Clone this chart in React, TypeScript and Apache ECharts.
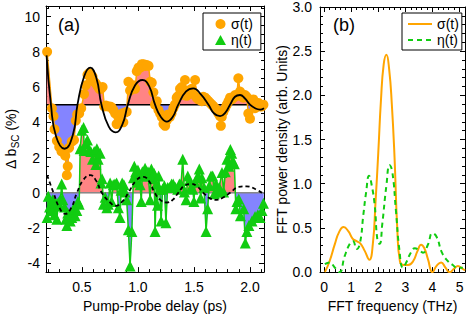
import React, { useEffect, useRef } from "react";
import * as echarts from "echarts";

// ---------- data ----------
const sigmaData: number[][] = [
  [0.19, 8.0], [0.233, 4.8], [0.247, 4.35], [0.256, 3.6], [0.277, 2.95], [0.298, 2.6], [0.318, 2.35],
  [0.336, 2.3], [0.352, 2.1], [0.366, 1.0], [0.374, 1.5], [0.386, 2.55], [0.41, 2.9], [0.43, 3.0],
  [0.446, 4.1], [0.458, 4.45], [0.476, 4.5], [0.494, 4.8], [0.52, 5.6], [0.535, 6.1], [0.55, 6.7],
  [0.565, 6.8], [0.58, 6.55], [0.595, 6.6], [0.61, 6.3], [0.625, 6.2], [0.64, 6.05], [0.655, 5.9],
  [0.67, 5.9], [0.685, 6.0], [0.7, 4.9], [0.715, 4.95], [0.73, 4.9], [0.75, 4.9], [0.765, 4.85],
  [0.78, 4.7], [0.797, 4.5], [0.81, 3.9], [0.825, 4.3], [0.84, 4.1], [0.857, 4.5], [0.87, 4.0],
  [0.885, 4.55], [0.9, 4.6], [0.915, 6.3], [0.93, 5.8], [0.946, 5.9], [0.96, 6.1], [0.975, 5.9],
  [0.99, 6.9], [1.005, 7.1], [1.02, 7.1], [1.035, 7.3], [1.05, 7.3], [1.065, 7.2], [1.08, 7.25],
  [1.095, 7.2], [1.11, 6.3], [1.124, 6.25], [1.138, 5.7], [1.153, 5.0], [1.168, 5.2], [1.183, 4.7],
  [1.198, 4.5], [1.213, 4.3], [1.228, 3.9], [1.243, 3.8], [1.257, 4.1], [1.27, 4.45], [1.285, 4.3],
  [1.3, 4.5], [1.316, 4.8], [1.33, 5.0], [1.346, 5.4], [1.361, 5.5], [1.376, 5.9], [1.391, 6.0],
  [1.405, 5.55], [1.42, 6.4], [1.435, 5.5], [1.45, 5.8], [1.465, 5.65], [1.48, 5.9], [1.495, 5.6],
  [1.51, 6.4], [1.525, 5.4], [1.54, 5.3], [1.555, 5.4], [1.57, 5.2], [1.584, 5.45], [1.6, 5.4],
  [1.614, 5.3], [1.629, 5.2], [1.644, 5.1], [1.66, 5.0], [1.675, 4.9], [1.69, 4.8], [1.703, 4.7],
  [1.718, 4.5], [1.733, 4.35], [1.74, 3.8], [1.748, 4.3], [1.763, 4.6], [1.778, 4.8], [1.793, 5.0],
  [1.808, 5.2], [1.822, 5.4], [1.837, 5.3], [1.852, 5.4], [1.867, 5.55], [1.882, 5.5], [1.896, 6.5],
  [1.911, 5.75], [1.926, 5.6], [1.941, 5.4], [1.956, 5.55], [1.97, 5.45], [1.985, 4.5], [2.0, 4.2],
  [2.015, 5.2], [2.03, 5.3], [2.045, 4.8], [2.06, 5.0], [2.075, 5.1], [2.09, 4.9], [2.105, 4.9],
  [2.12, 5.0],
];

const etaData: number[][] = [
  [0.19, -1.4], [0.2, -0.2], [0.212, -0.8], [0.226, -1.0], [0.24, -0.4], [0.255, -1.25], [0.268, -0.6],
  [0.277, -1.5], [0.29, -0.55], [0.3, -0.75], [0.31, -0.35], [0.32, 0.5], [0.33, -0.4], [0.345, -0.8],
  [0.356, -1.5], [0.366, -1.85], [0.374, -1.15], [0.386, -1.4], [0.396, -1.6], [0.41, -1.4],
  [0.425, -0.9], [0.44, -1.3], [0.455, -1.0], [0.465, -0.5], [0.476, -0.65], [0.485, 2.5], [0.5, 3.55],
  [0.515, 3.7], [0.52, 2.4], [0.535, 2.8], [0.55, 3.0], [0.565, 2.45], [0.58, 2.35], [0.595, 1.9],
  [0.61, 2.35], [0.625, 1.6], [0.634, 2.5], [0.645, 1.9], [0.663, 2.25], [0.67, 0.55], [0.68, 0.8],
  [0.693, -0.65], [0.708, -0.25], [0.723, -0.85], [0.735, -0.65], [0.752, 0.55], [0.765, -0.5],
  [0.78, 0.45], [0.795, 0.5], [0.81, 0.55], [0.826, -0.85], [0.84, -1.4], [0.85, 0.15], [0.86, 0.55],
  [0.875, 0.45], [0.886, 0.05], [0.9, -0.4], [0.915, -2.1], [0.93, -4.15], [0.946, -2.2], [0.96, 0.85],
  [0.968, 1.5], [0.98, 1.2], [0.99, 0.6], [1.0, 1.3], [1.02, 0.45], [1.03, -0.5], [1.04, 1.2],
  [1.05, 0.95], [1.064, 1.4], [1.078, 0.95], [1.09, 1.2], [1.109, -0.4], [1.12, 1.35], [1.135, 0.8],
  [1.145, 1.1], [1.153, -2.2], [1.165, 0.5], [1.175, -0.7], [1.185, 0.95], [1.195, 0.2], [1.207, -1.6],
  [1.22, 0.2], [1.236, 0.4], [1.25, -1.7], [1.265, 0.3], [1.28, 0.3], [1.3, 0.5], [1.315, 0.5],
  [1.335, 0.3], [1.355, 0.2], [1.37, 0.5], [1.385, 0.5], [1.4, 1.9], [1.415, 0.05], [1.43, -0.4],
  [1.445, 0.95], [1.459, 0.7], [1.475, 0.3], [1.49, 0.2], [1.5, -0.5], [1.51, 0.6], [1.53, 0.9],
  [1.548, 1.35], [1.56, -0.3], [1.57, 0.85], [1.59, 0.3], [1.608, -2.2], [1.622, -0.9], [1.637, 0.4],
  [1.652, 0.95], [1.667, 0.95], [1.682, -0.05], [1.697, 0.5], [1.71, 0.05], [1.725, 0.3], [1.75, 1.15],
  [1.765, 0.05], [1.78, 1.2], [1.795, 1.9], [1.81, 1.5], [1.825, 2.45], [1.837, 2.25], [1.845, 1.8],
  [1.86, 1.65], [1.874, -0.9], [1.884, -0.5], [1.9, -0.35], [1.915, -1.3], [1.944, -0.9], [1.958, -2.85],
  [1.972, -2.2], [1.99, -1.85], [2.018, -1.6], [2.045, -1.35], [2.07, -1.25], [2.09, -1.4], [2.107, -1.0],
  [2.12, -0.6],
];

const sigmaFit: number[][] = [
  [0.185, 7.8], [0.224, 5.0], [0.27, 3.2], [0.345, 2.5], [0.42, 3.3], [0.461, 5.0], [0.52, 6.6],
  [0.575, 7.1], [0.63, 6.5], [0.675, 5.0], [0.74, 3.75], [0.8, 3.43], [0.86, 3.85], [0.91, 5.0],
  [0.975, 6.1], [1.04, 6.4], [1.1, 6.05], [1.153, 5.0], [1.205, 4.3], [1.258, 4.04], [1.31, 4.3],
  [1.36, 5.0], [1.43, 5.75], [1.495, 5.93], [1.56, 5.6], [1.63, 5.0], [1.68, 4.5], [1.733, 4.35],
  [1.78, 4.55], [1.822, 5.0], [1.866, 5.45], [1.911, 5.55], [1.955, 5.35], [2.0, 5.0], [2.05, 4.78],
  [2.09, 4.72], [2.125, 4.8],
];

const etaFit: number[][] = [
  [0.19, 1.0], [0.247, 0], [0.3, -0.85], [0.351, -1.2], [0.405, -0.85], [0.456, 0], [0.515, 0.75],
  [0.574, 1.0], [0.626, 0.7], [0.678, 0], [0.752, -0.55], [0.8, -0.74], [0.86, -0.5], [0.915, 0],
  [0.985, 0.7], [1.05, 0.9], [1.1, 0.65], [1.15, 0], [1.2, -0.4], [1.258, -0.55], [1.31, -0.4],
  [1.36, 0], [1.42, 0.42], [1.48, 0.5], [1.53, 0.35], [1.584, 0], [1.64, -0.3], [1.703, -0.4],
  [1.76, -0.27], [1.822, 0], [1.9, 0.33], [1.97, 0.37], [2.05, 0.2], [2.125, -0.07],
];

const sigmaBase = 5;
const etaBase = 0;

const fftSigma: number[][] = [
  [0.03, 0.0], [0.2, 0.12], [0.4, 0.32], [0.55, 0.45], [0.72, 0.51], [0.9, 0.46], [1.05, 0.38],
  [1.2, 0.35], [1.35, 0.32], [1.5, 0.24], [1.67, 0.14], [1.8, 0.32], [1.9, 0.8], [2.0, 1.35],
  [2.1, 1.95], [2.2, 2.35], [2.3, 2.46], [2.4, 2.3], [2.5, 1.9], [2.6, 1.3], [2.7, 0.5], [2.8, 0.12],
  [2.95, 0.08], [3.1, 0.08], [3.28, 0.12], [3.45, 0.24], [3.58, 0.31], [3.7, 0.27], [3.83, 0.15],
  [4.0, 0.0], [4.15, 0.07], [4.32, 0.11], [4.48, 0.05], [4.63, 0.0], [4.8, 0.04], [4.94, 0.07],
  [5.1, 0.04], [5.2, 0.02],
];

const fftEta: number[][] = [
  [0.03, 0.09], [0.2, 0.11], [0.4, 0.05], [0.57, 0.0], [0.76, 0.18], [0.95, 0.32], [1.07, 0.35],
  [1.2, 0.26], [1.32, 0.32], [1.45, 0.65], [1.55, 0.9], [1.66, 1.09], [1.76, 0.98], [1.87, 0.75],
  [1.97, 0.36], [2.05, 0.32], [2.15, 0.55], [2.3, 0.98], [2.42, 1.21], [2.52, 1.13], [2.65, 0.7],
  [2.78, 0.25], [2.91, 0.05], [3.05, 0.12], [3.2, 0.22], [3.35, 0.27], [3.5, 0.25], [3.65, 0.22],
  [3.83, 0.31], [4.0, 0.44], [4.15, 0.4], [4.35, 0.22], [4.55, 0.13], [4.75, 0.08], [4.9, 0.05],
  [5.12, 0.05],
];

// tick labels
const xTicksA = [0.5, 1.0, 1.5, 2.0];
const yTicksA = [-4, -2, 0, 2, 4, 6, 8, 10];
const xTicksB = [0, 1, 2, 3, 4, 5];
const yTicksB = [0, 0.5, 1.0, 1.5, 2.0, 2.5, 3.0];

const FONT = "'Liberation Sans', Arial, Helvetica, sans-serif";
const ORANGE = "#FFA500";
const GREEN = "#11CC11";
const RED_FILL = "#FF8484";
const BLUE_FILL = "#8484FF";

function range(a: number, b: number, step: number, skip: number[]): number[] {
  const out: number[] = [];
  const n = Math.round((b - a) / step);
  for (let i = 0; i <= n; i++) {
    const v = Math.round((a + i * step) * 1000) / 1000;
    if (!skip.some((s) => Math.abs(s - v) < 1e-6)) out.push(v);
  }
  return out;
}

function axisGroup(
  kind: "x" | "y",
  gridIndex: number,
  min: number,
  max: number,
  majors: number[],
  minors: number[],
  main: any
) {
  const mainPos = kind === "x" ? "bottom" : "left";
  const oppPos = kind === "x" ? "top" : "right";
  const common = {
    type: "value",
    gridIndex,
    min,
    max,
    splitLine: { show: false },
    minorTick: { show: false },
  };
  const line = { show: true, onZero: false, lineStyle: { color: "#000", width: 1 } };
  return [
    {
      ...common,
      position: mainPos,
      axisLine: line,
      axisTick: { show: true, inside: true, length: 5, customValues: majors, lineStyle: { color: "#000", width: 1 } },
      axisLabel: {
        show: true,
        customValues: majors,
        color: "#000",
        fontSize: 14,
        fontFamily: FONT,
        margin: main.labelMargin,
        formatter: main.formatter,
      },
      name: main.name,
      nameLocation: "middle",
      nameGap: main.nameGap,
      nameTextStyle: main.nameTextStyle,
    },
    {
      ...common,
      position: mainPos,
      axisLine: { show: false, onZero: false },
      axisTick: { show: true, inside: true, length: 3, customValues: minors, lineStyle: { color: "#000", width: 1 } },
      axisLabel: { show: false },
    },
    {
      ...common,
      position: oppPos,
      axisLine: line,
      axisTick: { show: true, inside: true, length: 5, customValues: majors, lineStyle: { color: "#000", width: 1 } },
      axisLabel: { show: false },
    },
    {
      ...common,
      position: oppPos,
      axisLine: { show: false, onZero: false },
      axisTick: { show: true, inside: true, length: 3, customValues: minors, lineStyle: { color: "#000", width: 1 } },
      axisLabel: { show: false },
    },
  ];
}

function fillRenderer(data: number[][], base: number) {
  return (params: any, api: any) => {
    if (params.dataIndex !== 0) return null;
    const pts = data.map((d) => api.coord([d[0], d[1]]));
    const by = api.coord([data[0][0], base])[1];
    const children: any[] = [];
    let sign = data[0][1] >= base;
    let cur: number[][] = [[pts[0][0], by], pts[0]];
    for (let i = 1; i < data.length; i++) {
      const s = data[i][1] >= base;
      if (s === sign) {
        cur.push(pts[i]);
      } else {
        const f = (data[i - 1][1] - base) / (data[i - 1][1] - data[i][1]);
        const cx = pts[i - 1][0] + f * (pts[i][0] - pts[i - 1][0]);
        cur.push([cx, by]);
        children.push({
          type: "polygon",
          shape: { points: cur },
          style: { fill: sign ? RED_FILL : BLUE_FILL, stroke: sign ? RED_FILL : BLUE_FILL, lineWidth: 0.5 },
        });
        cur = [[cx, by], pts[i]];
        sign = s;
      }
    }
    cur.push([pts[pts.length - 1][0], by]);
    children.push({
      type: "polygon",
      shape: { points: cur },
      style: { fill: sign ? RED_FILL : BLUE_FILL, stroke: sign ? RED_FILL : BLUE_FILL, lineWidth: 0.5 },
    });
    return { type: "group", children };
  };
}

export default function App() {
  const ref = useRef<HTMLDivElement>(null);
  useEffect(() => {
    if (!ref.current) return;
    const chart = echarts.init(ref.current, null, { renderer: "svg" });
    const xMinA = 0.18, xMaxA = 2.125, yMinA = -4.5, yMaxA = 10.6;
    const xMinB = -0.15, xMaxB = 5.2, yMinB = 0, yMaxB = 3;

    const xAxes = [
      ...axisGroup("x", 0, xMinA, xMaxA, xTicksA, range(0.2, 2.1, 0.1, xTicksA), {
        formatter: (v: number) => v.toFixed(1),
        labelMargin: 8,
        name: "Pump-Probe delay (ps)",
        nameGap: 24,
        nameTextStyle: { fontSize: 14, color: "#000", fontFamily: FONT },
      }),
      ...axisGroup("x", 1, xMinB, xMaxB, xTicksB, range(0, 5.2, 0.2, xTicksB), {
        formatter: (v: number) => String(v),
        labelMargin: 8,
        name: "FFT frequency (THz)",
        nameGap: 24,
        nameTextStyle: { fontSize: 14, color: "#000", fontFamily: FONT },
      }),
    ];
    const yAxes = [
      ...axisGroup("y", 0, yMinA, yMaxA, yTicksA, range(-4.5, 10.5, 0.5, yTicksA), {
        formatter: (v: number) => String(v),
        labelMargin: 6,
        name: "{n|Δ b}{s|SC}{n| (%)}",
        nameGap: 22,
        nameTextStyle: {
          color: "#000",
          fontFamily: FONT,
          rich: {
            n: { fontSize: 14, lineHeight: 20, fontFamily: FONT, color: "#000" },
            s: { fontSize: 10, lineHeight: 12, verticalAlign: "bottom", fontFamily: FONT, color: "#000" },
          },
        },
      }),
      ...axisGroup("y", 1, yMinB, yMaxB, yTicksB, range(0, 3, 0.1, yTicksB), {
        formatter: (v: number) => v.toFixed(1),
        labelMargin: 8,
        name: "FFT power density (arb. Units)",
        nameGap: 30,
        nameTextStyle: { fontSize: 14, color: "#000", fontFamily: FONT },
      }),
    ];

    const option: any = {
      animation: false,
      backgroundColor: "#fff",
      textStyle: { fontFamily: FONT },
      grid: [
        { left: 46, top: 6, width: 218, height: 272 },
        { left: 320, top: 6, width: 145, height: 272 },
      ],
      xAxis: xAxes,
      yAxis: yAxes,
      legend: [
        {
          left: 203,
          top: 13,
          orient: "vertical",
          padding: [4, 8, 3, 12],
          itemGap: 2,
          itemWidth: 11,
          itemHeight: 10,
          borderColor: "#000",
          borderWidth: 1,
          borderRadius: 0,
          backgroundColor: "#fff",
          selectedMode: false,
          textStyle: { fontSize: 14, color: "#000", fontFamily: FONT, lineHeight: 14 },
          data: [
            { name: "σ(t)", icon: "circle" },
            { name: "η(t)", icon: "triangle" },
          ],
        },
        {
          left: 402,
          top: 13,
          orient: "vertical",
          padding: [4, 3, 3, 5],
          itemGap: 2,
          itemWidth: 24,
          itemHeight: 10,
          borderColor: "#000",
          borderWidth: 1,
          borderRadius: 0,
          backgroundColor: "#fff",
          selectedMode: false,
          itemStyle: { opacity: 0, borderWidth: 0 },
          textStyle: { fontSize: 14, color: "#000", fontFamily: FONT, lineHeight: 14 },
          formatter: (n: string) => (n === "fftSigma" ? "σ(t)" : "η(t)"),
          data: [{ name: "fftSigma" }, { name: "fftEta" }],
        },
      ],
      graphic: [
        { type: "text", left: 58, top: 16, style: { text: "(a)", fontSize: 18, fontFamily: FONT, fill: "#000" } },
        { type: "text", left: 333, top: 16, style: { text: "(b)", fontSize: 18, fontFamily: FONT, fill: "#000" } },
      ],
      series: [
        {
          type: "custom",
          name: "sigmaFill",
          xAxisIndex: 0,
          yAxisIndex: 0,
          clip: true,
          renderItem: fillRenderer(sigmaData, sigmaBase),
          data: [[sigmaData[0][0], sigmaBase]],
          encode: { x: 0, y: 1 },
          z: 1,
        },
        {
          type: "custom",
          name: "etaFill",
          xAxisIndex: 0,
          yAxisIndex: 0,
          clip: true,
          renderItem: fillRenderer(etaData, etaBase),
          data: [[etaData[0][0], etaBase]],
          encode: { x: 0, y: 1 },
          z: 1,
        },
        {
          type: "line",
          name: "sigmaBase",
          xAxisIndex: 0,
          yAxisIndex: 0,
          data: [[xMinA, sigmaBase], [xMaxA, sigmaBase]],
          symbol: "none",
          lineStyle: { color: "#000", width: 1.5 },
          z: 2,
        },
        {
          type: "line",
          name: "etaBase",
          xAxisIndex: 0,
          yAxisIndex: 0,
          data: [[xMinA, etaBase], [xMaxA, etaBase]],
          symbol: "none",
          lineStyle: { color: "#888", width: 1.5 },
          z: 2,
        },
        {
          type: "line",
          name: "σ(t)",
          xAxisIndex: 0,
          yAxisIndex: 0,
          data: sigmaData,
          symbol: "circle",
          symbolSize: 10,
          showAllSymbol: true,
          itemStyle: { color: ORANGE },
          lineStyle: { color: ORANGE, width: 1.5 },
          z: 3,
        },
        {
          type: "line",
          name: "η(t)",
          xAxisIndex: 0,
          yAxisIndex: 0,
          data: etaData,
          symbol: "triangle",
          symbolSize: 11,
          showAllSymbol: true,
          itemStyle: { color: GREEN },
          lineStyle: { color: GREEN, width: 1.5 },
          z: 3,
        },
        {
          type: "line",
          name: "sigmaFit",
          xAxisIndex: 0,
          yAxisIndex: 0,
          data: sigmaFit,
          smooth: 0.5,
          symbol: "none",
          lineStyle: { color: "#000", width: 1.8 },
          z: 4,
        },
        {
          type: "line",
          name: "etaFit",
          xAxisIndex: 0,
          yAxisIndex: 0,
          data: etaFit,
          smooth: 0.5,
          symbol: "none",
          lineStyle: { color: "#000", width: 1.8, type: [4, 3] },
          z: 4,
        },
        {
          type: "line",
          name: "fftSigma",
          xAxisIndex: 4,
          yAxisIndex: 4,
          data: fftSigma,
          smooth: 0.5,
          symbol: "none",
          itemStyle: { color: ORANGE },
          lineStyle: { color: ORANGE, width: 2 },
          z: 3,
        },
        {
          type: "line",
          name: "fftEta",
          xAxisIndex: 4,
          yAxisIndex: 4,
          data: fftEta,
          smooth: 0.5,
          symbol: "none",
          itemStyle: { color: GREEN },
          lineStyle: { color: GREEN, width: 2, type: [5, 4] },
          z: 3,
        },
      ],
    };
    chart.setOption(option);
    return () => chart.dispose();
  }, []);
  return <div ref={ref} style={{ position: "fixed", left: 0, top: 0, width: 468, height: 318 }} />;
}
